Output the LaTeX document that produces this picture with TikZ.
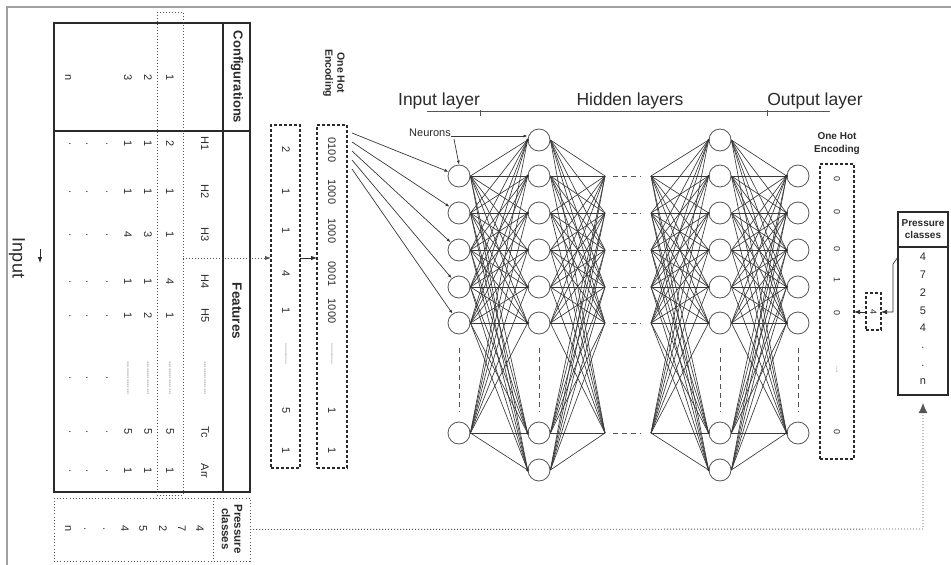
\documentclass[tikz,border=0pt]{standalone}
\usepackage{fontspec}
\setmainfont{Liberation Sans}
\usetikzlibrary{arrows.meta}
\definecolor{ink}{HTML}{2A2A2A}
\definecolor{wirec}{HTML}{383838}
\definecolor{framec}{HTML}{A0A0A0}
\begin{document}
\begin{tikzpicture}[x=1pt,y=-1pt,
  txt/.style={inner sep=0pt, text=ink},
  rv/.style={txt, rotate=-90, font=\fontsize{11}{13}\selectfont},
  rvb/.style={txt, rotate=-90, align=center, font=\bfseries\fontsize{10.5}{12}\selectfont},
  hv/.style={txt, font=\fontsize{11}{13}\selectfont},
  boxn/.style={inner sep=0pt, outer sep=0pt, anchor=north west},
  solidbox/.style={boxn, draw=ink, line width=1.4pt},
  dashbox/.style={boxn, draw=ink, line width=1.2pt, dash pattern=on 3pt off 2pt},
  dotbox/.style={boxn, draw=ink!80, line width=1pt, dash pattern=on 1pt off 2.2pt},
  dotline/.style={draw=ink!80, line width=0.9pt, dash pattern=on 1pt off 2pt},
  neuron/.style={circle, draw=ink!80, line width=0.8pt, minimum size=22pt, inner sep=0pt},
  wire/.style={draw=wirec, line width=0.65pt},
  tipa/.style={-{Latex[length=6pt,width=4.5pt]}},
  tips/.style={-{Latex[length=4pt,width=3pt]}},
  layerlab/.style={txt, font=\fontsize{17.5}{19}\selectfont}
]
\useasboundingbox (0,0) rectangle (951,565);

% outer frame
\draw[framec, line width=1.8pt] (7,565) -- (7,7) -- (951,7);

% ---------- input table (rotated) ----------
\node[rv, font=\fontsize{18}{20}\selectfont] (inlab) at (17,258) {Input};
\coordinate (inA) at (40,249);
\coordinate (inB) at (40,263);
\draw[ink, line width=0.8pt, tipa] (inA) -- (inB);

\node[solidbox, minimum width=196pt, minimum height=469pt] (tab) at (54,23) {};
\draw[ink, line width=1.4pt] (54,131) -- (250,131);
\draw[ink, line width=1.4pt] (223,23) -- (223,492);
\node[rv, font=\bfseries\fontsize{13}{15}\selectfont] (cfg) at (237,77) {Configurations};
\node[rv, font=\bfseries\fontsize{13.5}{15}\selectfont] (feat) at (237,311) {Features};

% configuration numbers
\node[rv] (c1) at (170,78) {1};
\node[rv] (c2) at (148,78) {2};
\node[rv] (c3) at (128,78) {3};
\node[rv] (cn) at (68,78) {n};

% feature headers and values
\foreach \y/\h/\ra/\rb/\rc [count=\k] in
  {144/H1/2/1/1, 192/H2/1/1/1, 235/H3/1/3/4, 282/H4/4/1/1, 316/H5/1/2/1,
   432/Tc/5/5/5, 471/Arr/1/1/1} {
  \node[rv] (fh\k) at (205,\y) {\h};
  \node[rv] (fa\k) at (170,\y) {\ra};
  \node[rv] (fb\k) at (148,\y) {\rb};
  \node[rv] (fc\k) at (128,\y) {\rc};
  \node[rv] (fd\k) at (107,\y) {.};
  \node[rv] (fe\k) at (87,\y) {.};
  \node[rv] (ff\k) at (70,\y) {.};
}
\foreach \x [count=\k] in {205,170,148,128} {
  \node[rv, font=\fontsize{8}{9}\selectfont] (fdots\k) at (\x,378) {...............};
}
\node[rv] (fdd) at (107,378) {.};
\node[rv] (fde) at (87,378) {.};
\node[rv] (fdf) at (70,378) {.};

% highlighted first configuration
\draw[dotline] (157,12) rectangle (183,495);
\coordinate (hl) at (183,258);

% pressure classes of the table
\node[dotbox, minimum width=196pt, minimum height=63pt] (pcb) at (54,498) {};
\draw[dotline] (213,498) -- (213,561);
\node[rvb, font=\bfseries\fontsize{11.5}{12.5}\selectfont] (pcbl) at (232,529) {Pressure\\classes};
\foreach \x/\v [count=\k] in {200/4, 182/7, 163/2, 143/5, 125/4, 104/., 85/., 68/n} {
  \node[rv] (pv\k) at (\x,529) {\v};
}

% ---------- encoded vectors ----------
\node[rvb] (ohl) at (334,73) {One Hot\\Encoding};
\node[dashbox, minimum width=29pt, minimum height=343pt] (b1) at (271,125) {};
\node[dashbox, minimum width=30pt, minimum height=343pt] (b2) at (317,125) {};
\foreach \y/\u/\w [count=\k] in {150/2/0100, 192/1/1000, 231/1/1000, 274/4/0001,
   311/1/1000, 411/5/1, 451/1/1} {
  \node[rv] (bu\k) at (286,\y) {\u};
  \node[rv] (bw\k) at (332,\y) {\w};
}
\node[rv, font=\fontsize{7}{8}\selectfont] (bud) at (286,354) {...........};
\node[rv, font=\fontsize{7}{8}\selectfont] (bwd) at (332,354) {...........};

\draw[dotline, tipa] (hl) -- (b1.west |- hl);
\draw[ink, line width=0.8pt, tipa] (b1.east |- hl) -- (b2.west |- hl);

% ---------- layer titles ----------
\node[layerlab] (lin) at (439,101) {Input layer};
\node[layerlab] (lhid) at (630,101) {Hidden layers};
\node[layerlab] (lout) at (815,101) {Output layer};
\draw[ink!80, line width=0.8pt] (427,111) -- (830,111);
\draw[ink!80, line width=0.8pt] (480,110) -- (480,116);
\draw[ink!80, line width=0.8pt] (767,110) -- (767,116);

% ---------- neurons ----------
\foreach \y [count=\k] in {176,213,250,287,323,433} {
  \node[neuron] (i\k) at (459,\y) {};
  \node[neuron] (o\k) at (798,\y) {};
  \coordinate (tr\k) at (605,\y);
  \coordinate (tl\k) at (651,\y);
  \coordinate (da\k) at (613,\y);
  \coordinate (db\k) at (641,\y);
  \draw[ink!80, line width=0.8pt, dash pattern=on 5pt off 4pt] (da\k) -- (db\k);
}
\foreach \y [count=\k] in {140,176,213,250,287,323,433,470} {
  \node[neuron] (h\k) at (539,\y) {};
  \node[neuron] (g\k) at (720,\y) {};
}
\foreach \x in {459,539,720,798} {
  \draw[ink!80, line width=0.8pt, dash pattern=on 5pt off 4pt] (\x,348) -- (\x,412);
}

% weights
\foreach \a in {1,...,6} {
  \foreach \b in {1,...,8} {
    \draw[wire] (i\a.east) -- (h\b.west);
    \draw[wire] (h\b.east) -- (tr\a);
    \draw[wire] (tl\a) -- (g\b.west);
    \draw[wire] (g\b.east) -- (o\a.west);
  }
}
\foreach \b in {1,...,8} {
  \fill[ink] (h\b.west) circle (1.6pt);
  \fill[ink] (g\b.west) circle (1.2pt);
}
\foreach \a in {1,...,6} {
  \fill[ink] (o\a.west) circle (1.6pt);
}

% inputs into the first layer
\foreach \k in {1,...,5} {
  \coordinate (s\k) at (352,124+9*\k);
  \draw[wire, line width=0.7pt, tips] (s\k) -- (i\k);
}

% neurons label
\node[txt, font=\fontsize{11}{12}\selectfont] (neu) at (430,133) {Neurons};
\draw[wire, line width=0.7pt, tips] (neu.east |- 0,136) -- (h1.west |- 0,136);
\draw[wire, line width=0.7pt, tips] (454,139) -- (i1.north);

% ---------- output encoding ----------
\node[txt, align=center, font=\bfseries\fontsize{10}{13}\selectfont] (ohr) at (837,144) {One Hot\\Encoding};
\node[dashbox, minimum width=34pt, minimum height=295pt] (ob) at (820,164) {};
\foreach \y/\v [count=\k] in {179/0, 212/0, 249/0, 280/1, 313/0, 432/0} {
  \node[rv, font=\fontsize{9}{10}\selectfont] (ov\k) at (837,\y) {\v};
}
\node[rv, font=\fontsize{6}{7}\selectfont] (ovd) at (837,370) {....};

% selected class
\node[dashbox, minimum width=15pt, minimum height=37pt] (sb) at (866,293) {};
\node[rv, font=\fontsize{9}{10}\selectfont] (sbv) at (873.5,311.5) {4};

% pressure classes on the right
\node[solidbox, minimum width=50pt, minimum height=183pt] (pcr) at (898,212) {};
\draw[ink, line width=1.4pt] (898,247) -- (948,247);
\node[txt, align=center, font=\bfseries\fontsize{10}{12}\selectfont] (pcrl) at (923,229) {Pressure\\classes};
\foreach \y/\v [count=\k] in {257/4, 275/7, 293/2, 311/5, 328/4, 348/., 366/., 382/n} {
  \node[hv] (rv\k) at (923,\y) {\v};
}
\coordinate (pk1) at (898,257);
\coordinate (pk2) at (893,264);
\coordinate (pk3) at (893,312);
\draw[ink, line width=0.6pt, tipa] (pk1) -- (pk2) -- (pk3) -- (sb.east |- pk3);
\draw[ink, line width=0.6pt, tipa] (sb.west |- pk3) -- (ob.east |- pk3);

% feedback of the true classes
\coordinate (fb) at (923,529);
\draw[dotline, -{Latex[length=10pt,width=9pt]}, shorten >=8pt] (pcb.east) -- (fb) -- (pcr.south);
\end{tikzpicture}
\end{document}
